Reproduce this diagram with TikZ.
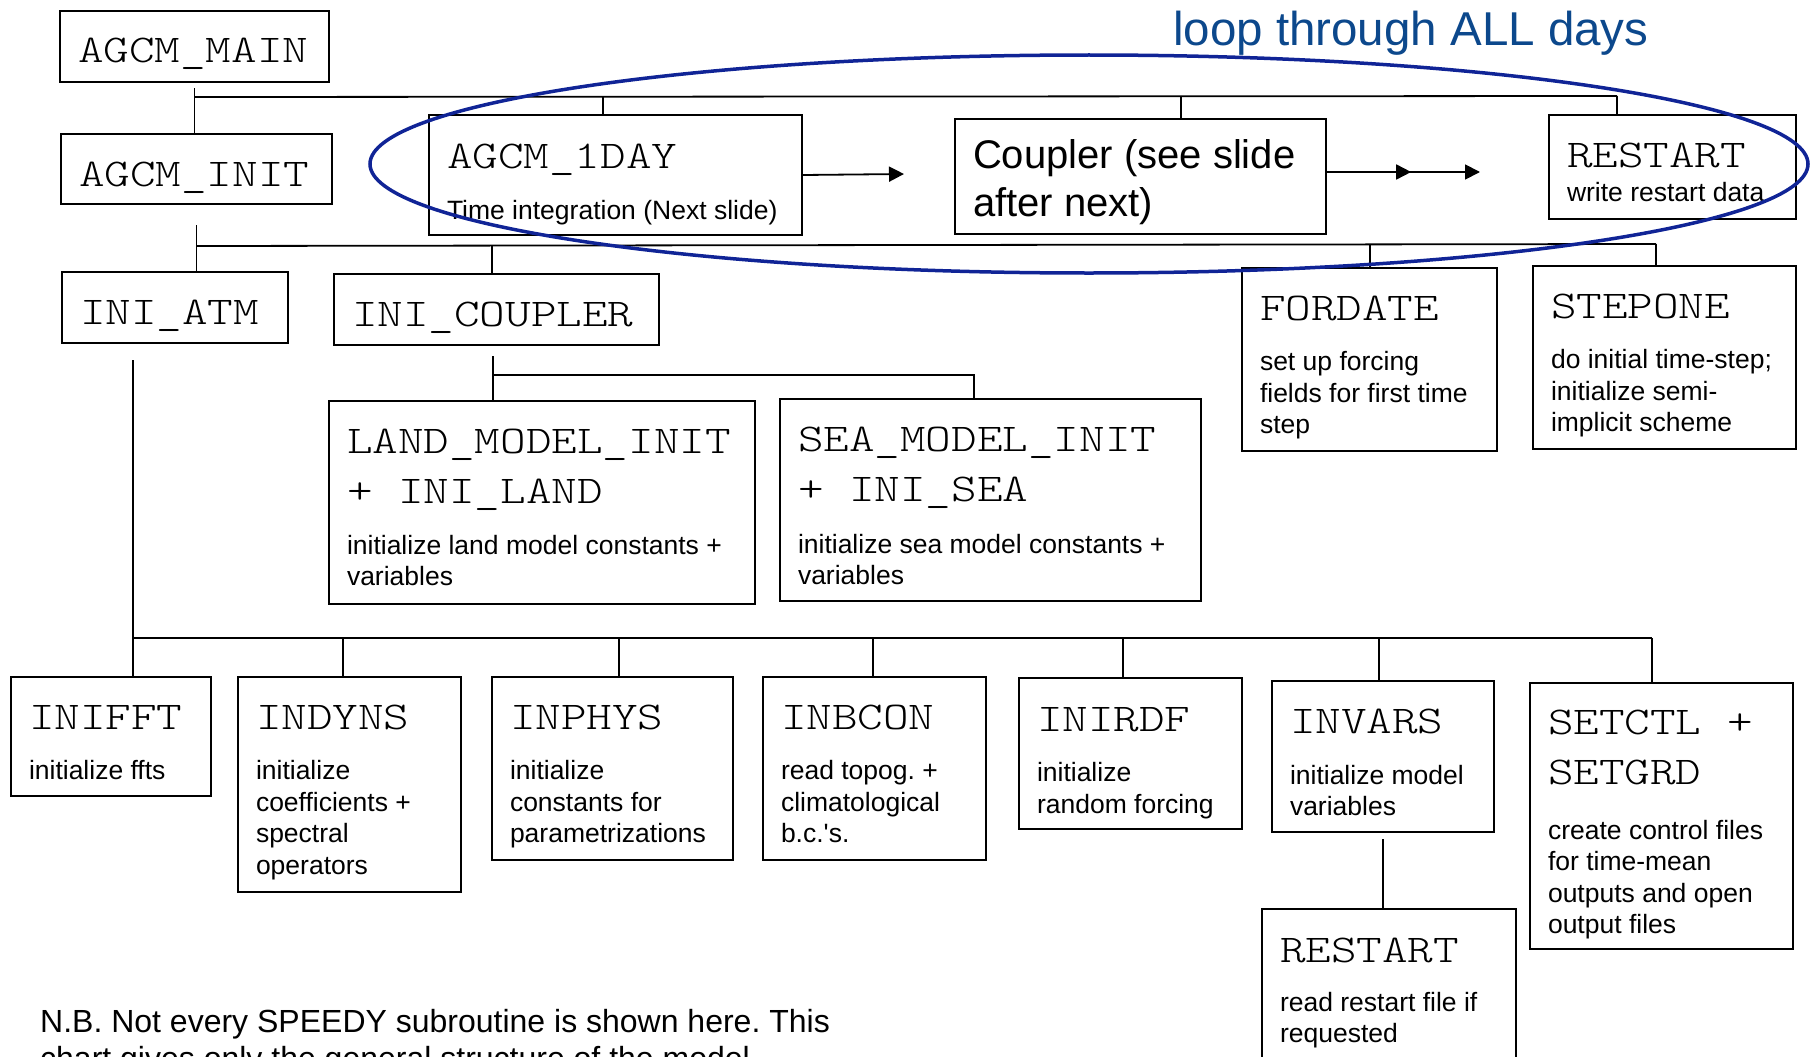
\documentclass[tikz,border=0pt]{standalone}
\usepackage{fontspec}
\setmainfont{Liberation Sans}
\newfontfamily\codefont[FakeStretch=1.24]{lmmonolt10-regular.otf}
\usetikzlibrary{arrows.meta}
\usetikzlibrary{decorations.markings}
\definecolor{loopblue}{RGB}{16,36,150}
\definecolor{titleblue}{RGB}{12,72,140}
\frenchspacing
% routine name in typewriter, then the small description below it
\newcommand{\bigcode}{\codefont\fontsize{39.3}{50}\selectfont\spaceskip=0pt\xspaceskip=0pt}
\newcommand{\smalltext}[1][19pt]{\par\vspace{#1}\normalfont\fontsize{26.5}{31.5}\selectfont\spaceskip=0pt\xspaceskip=0pt}
\tikzset{
  % one box of the call tree
  routine/.style={draw=black,line width=2pt,anchor=north west,
    inner xsep=18pt,inner ysep=0pt,align=flush left},
  % lines of the call tree
  tree/.style={draw=black,line width=1.8pt},
  % style to add an arrow head part way along a path
  mid arrow/.style={postaction={decorate,decoration={
        markings,
        mark=at position #1 with {\arrow{Triangle[length=15pt,width=15pt]}}
      }}},
}

\begin{document}
\begin{tikzpicture}[x=1pt,y=-1pt]
\useasboundingbox (0,0) rectangle (1810,1057);
\clip (0,0) rectangle (1810,1057);

% top level
\node[routine,text width=233pt,text height=52pt,text depth=19pt] (main) at (59,10) {\bigcode AGCM\_MAIN\par};
\node[routine,text width=235pt,text height=52pt,text depth=18pt] (init) at (60,133) {\bigcode AGCM\_INIT\par};
\node[routine,text width=337pt,text height=53pt,text depth=67pt] (oneday) at (428,114)
  {\bigcode AGCM\_1DAY\smalltext[19.5pt] Time integration (Next slide)\par};
\node[routine,text width=335pt,text height=49pt,text depth=66pt] (coupler) at (954,118)
  {\fontsize{40}{48}\selectfont\spaceskip=0pt\xspaceskip=0pt Coupler (see slide\\after next)\par};
\node[routine,text width=211pt,text height=52pt,text depth=52pt] (restartw) at (1548,114)
  {\bigcode RESTART\smalltext[2.5pt] write restart data\par};

% below AGCM_INIT
\node[routine,text width=190pt,text height=52pt,text depth=19pt] (iniatm) at (61,271) {\bigcode INI\_ATM\par};
\node[routine,text width=289pt,text height=52pt,text depth=19pt] (inicoupler) at (333,273) {\bigcode INI\_COUPLER\par};
\node[routine,text width=219pt,text height=52pt,text depth=131pt] (fordate) at (1241,267)
  {\bigcode FORDATE\smalltext set up forcing\\fields for first time\\step\par};
\node[routine,text width=227pt,text height=52pt,text depth=131pt] (stepone) at (1532,265)
  {\bigcode STEPONE\smalltext do initial time-step;\\initialize semi-\\implicit scheme\par};

% below INI_COUPLER
\node[routine,text width=390pt,text height=52pt,text depth=151pt] (land) at (328,400)
  {\bigcode LAND\_MODEL\_INIT\\+ INI\_LAND\smalltext[19.5pt] initialize land model constants +\\variables\par};
\node[routine,text width=385pt,text height=52pt,text depth=150pt] (sea) at (779,398)
  {\bigcode SEA\_MODEL\_INIT\\+ INI\_SEA\smalltext[20.5pt] initialize sea model constants +\\variables\par};

% below INI_ATM
\node[routine,text width=164pt,text height=52pt,text depth=67pt] (inifft) at (10,676)
  {\bigcode INIFFT\smalltext initialize ffts\par};
\node[routine,text width=187pt,text height=52pt,text depth=163pt] (indyns) at (237,676)
  {\bigcode INDYNS\smalltext initialize\\coefficients +\\spectral\\operators\par};
\node[routine,text width=205pt,text height=52pt,text depth=131pt] (inphys) at (491,676)
  {\bigcode INPHYS\smalltext initialize\\constants for\\parametrizations\par};
\node[routine,text width=187pt,text height=52pt,text depth=131pt] (inbcon) at (762,676)
  {\bigcode INBCON\smalltext read topog. +\\climatological\\b.c.\textquotesingle s.\par};
\node[routine,text width=187pt,text height=53pt,text depth=98pt] (inirdf) at (1018,677)
  {\bigcode INIRDF\smalltext initialize\\random forcing\par};
\node[routine,text width=186pt,text height=52pt,text depth=99pt] (invars) at (1271,680)
  {\bigcode INVARS\smalltext[19.5pt] initialize model\\variables\par};
\node[routine,text width=227pt,text height=51pt,text depth=215pt] (setctl) at (1529,682)
  {\bigcode SETCTL +\\SETGRD\smalltext[23.5pt] create control files\\for time-mean\\outputs and open\\output files\par};
\node[routine,text width=218pt,text height=53pt,text depth=127pt] (restartr) at (1261,908)
  {\bigcode RESTART\smalltext[17.5pt] read restart file if\\requested\par};

% where the lines of the tree branch off
\coordinate (t1) at (603,97);
\coordinate (t2) at (1181,97);
\coordinate (t3) at (1617,96);
\coordinate (u1) at (492,246);
\coordinate (u2) at (1370,245);
\coordinate (u3) at (1656,244);
\coordinate (v0) at (493,375);
\coordinate (v1) at (974,375);
\coordinate (w0) at (133,638);
\coordinate (w1) at (343,638);
\coordinate (w2) at (619,638);
\coordinate (w3) at (873,638);
\coordinate (w4) at (1123,638);
\coordinate (w5) at (1379,638);
\coordinate (w6) at (1652,638);
\coordinate (a1) at (904,174);
\coordinate (a2) at (1480,172);

\draw[tree,shorten <=5pt] (main.south) -- (main.south |- init.north);
\draw[tree] (main.south |- t1) -- (t3);
\draw[tree] (t1) -- (t1 |- oneday.north);
\draw[tree] (t2) -- (t2 |- coupler.north);
\draw[tree] (t3) -- (t3 |- restartw.north);

\draw[tree,shorten <=20pt] (init.south) -- (init.south |- iniatm.north);
\draw[tree] (init.south |- u1) -- (u3);
\draw[tree] (u1) -- (u1 |- inicoupler.north);
\draw[tree] (u2) -- (u2 |- fordate.north);
\draw[tree] (u3) -- (u3 |- stepone.north);

\draw[tree,shorten <=10pt] (v0 |- inicoupler.south) -- (v0 |- land.north);
\draw[tree] (v0) -- (v1) -- (v1 |- sea.north);

\draw[tree,shorten <=16pt] (w0 |- iniatm.south) -- (w0 |- inifft.north);
\draw[tree] (w0) -- (w6);
\draw[tree] (w1) -- (w1 |- indyns.north);
\draw[tree] (w2) -- (w2 |- inphys.north);
\draw[tree] (w3) -- (w3 |- inbcon.north);
\draw[tree] (w4) -- (w4 |- inirdf.north);
\draw[tree] (w5) -- (w5 |- invars.north);
\draw[tree] (w6) -- (w6 |- setctl.north);

\draw[tree,shorten <=6pt] (invars.south) -- (invars.south |- restartr.north);

% arrows to the right
\draw[tree,-{Triangle[length=15pt,width=15pt]}] (oneday.east) -- (a1);
\draw[tree,mid arrow=0.55,-{Triangle[length=15pt,width=15pt]}] (coupler.east |- a2) -- (a2);

% the daily loop
\draw[loopblue,line width=3.5pt] (1089,164) ellipse [x radius=719pt,y radius=109pt];
\node[anchor=base west,inner sep=0pt,text=titleblue,font=\fontsize{47.5}{56}\selectfont] (looptitle) at (1173,46) {loop through ALL days};

\node[anchor=base west,inner sep=0pt,text width=900pt,align=flush left,font=\fontsize{32}{37}\selectfont] (note) at (40,1032)
  {N.B. Not every SPEEDY subroutine is shown here. This\\chart gives only the general structure of the model.};
\end{tikzpicture}
\end{document}
